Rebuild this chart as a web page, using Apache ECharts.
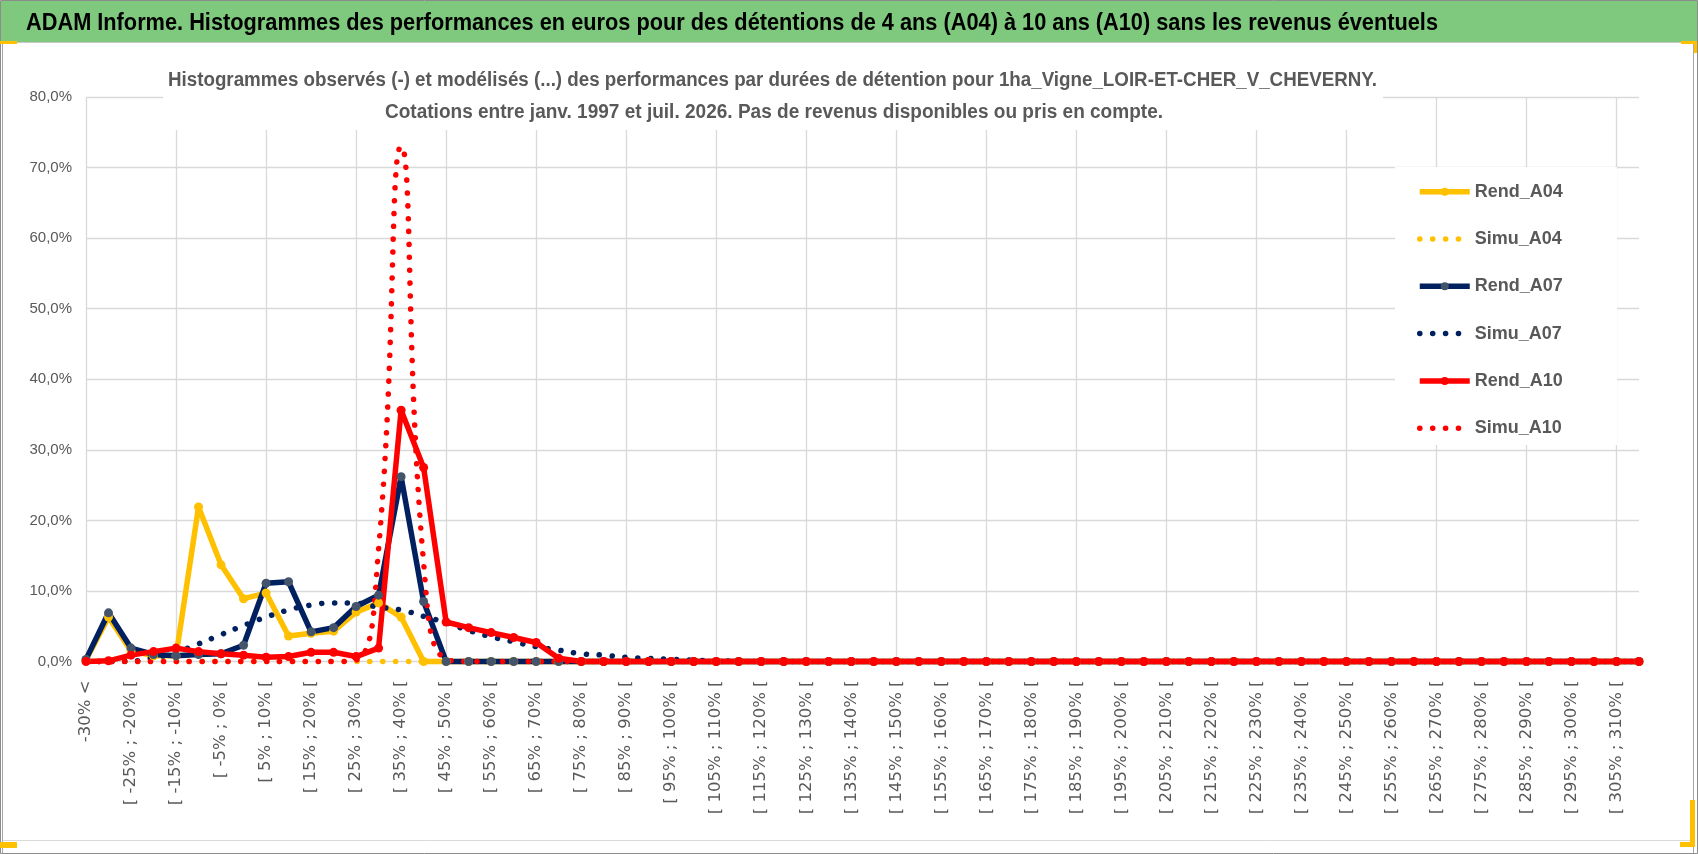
<!DOCTYPE html>
<html><head><meta charset="utf-8">
<script src="https://cdn.jsdelivr.net/npm/echarts@6/dist/echarts.min.js"></script>
<style>html,body{margin:0;padding:0;background:#fff;overflow:hidden}#c{width:1698px;height:854px}</style>
</head><body><div id="c"></div><script>
const categories = [
"-30% <",
"[ -30% ; -25% [","[ -25% ; -20% [","[ -20% ; -15% [","[ -15% ; -10% [","[ -10% ; -5% [","[ -5% ; 0% [",
"[ 0% ; 5% [","[ 5% ; 10% [","[ 10% ; 15% [","[ 15% ; 20% [","[ 20% ; 25% [","[ 25% ; 30% [",
"[ 30% ; 35% [","[ 35% ; 40% [","[ 40% ; 45% [","[ 45% ; 50% [","[ 50% ; 55% [","[ 55% ; 60% [",
"[ 60% ; 65% [","[ 65% ; 70% [","[ 70% ; 75% [","[ 75% ; 80% [","[ 80% ; 85% [","[ 85% ; 90% [",
"[ 90% ; 95% [","[ 95% ; 100% [","[ 100% ; 105% [","[ 105% ; 110% [","[ 110% ; 115% [","[ 115% ; 120% [",
"[ 120% ; 125% [","[ 125% ; 130% [","[ 130% ; 135% [","[ 135% ; 140% [","[ 140% ; 145% [","[ 145% ; 150% [",
"[ 150% ; 155% [","[ 155% ; 160% [","[ 160% ; 165% [","[ 165% ; 170% [","[ 170% ; 175% [","[ 175% ; 180% [",
"[ 180% ; 185% [","[ 185% ; 190% [","[ 190% ; 195% [","[ 195% ; 200% [","[ 200% ; 205% [","[ 205% ; 210% [",
"[ 210% ; 215% [","[ 215% ; 220% [","[ 220% ; 225% [","[ 225% ; 230% [","[ 230% ; 235% [","[ 235% ; 240% [",
"[ 240% ; 245% [","[ 245% ; 250% [","[ 250% ; 255% [","[ 255% ; 260% [","[ 260% ; 265% [","[ 265% ; 270% [",
"[ 270% ; 275% [","[ 275% ; 280% [","[ 280% ; 285% [","[ 285% ; 290% [","[ 290% ; 295% [","[ 295% ; 300% [",
"[ 300% ; 305% [","[ 305% ; 310% [",
"310% >"
];
const seriesNames = ["Rend_A04","Simu_A04","Rend_A07","Simu_A07","Rend_A10","Simu_A10"];
const rendA04 = [
0.2, 6.3, 1.5, 0.8, 0.8, 21.9, 13.7, 8.9, 9.7, 3.6,
4.0, 4.3, 7.0, 8.3, 6.3, 0, 0, 0, 0, 0,
0,0,0,0,0,0,0,0,0,0, 0,0,0,0,0,0,0,0,0,0, 0,0,0,0,0,0,0,0,0,0,
0,0,0,0,0,0,0,0,0,0, 0,0,0,0,0,0,0,0,0,0];
const simuA04 = [
0,0,0,0,0,0,0,0,0,0, 0,0,0,0,0,0,0,0,0,0, 0,0,0,0,0,0,0,0,0,0,
0,0,0,0,0,0,0,0,0,0, 0,0,0,0,0,0,0,0,0,0, 0,0,0,0,0,0,0,0,0,0, 0,0,0,0,0,0,0,0,0,0];
const rendA07 = [
0.3, 6.9, 1.9, 1.0, 0.8, 1.0, 1.1, 2.3, 11.1, 11.3,
4.2, 4.8, 7.8, 9.4, 26.2, 8.5, 0, 0, 0, 0,
0,0,0,0,0,0,0,0,0,0, 0,0,0,0,0,0,0,0,0,0, 0,0,0,0,0,0,0,0,0,0,
0,0,0,0,0,0,0,0,0,0, 0,0,0,0,0,0,0,0,0,0];
const simuA07 = [
0, 0, 0.05, 0.5, 1.3, 2.5, 3.8, 5.1, 6.3, 7.3,
8.0, 8.3, 8.25, 7.7, 7.3, 6.4, 5.5, 4.4, 3.5, 2.8,
2.1, 1.6, 1.1, 0.9, 0.6, 0.45, 0.3, 0.2, 0.1, 0.05,
0,0,0,0,0,0,0,0,0,0, 0,0,0,0,0,0,0,0,0,0, 0,0,0,0,0,0,0,0,0,0, 0,0,0,0,0,0,0,0,0,0];
const rendA10 = [
0, 0.1, 0.9, 1.4, 1.9, 1.4, 1.1, 0.9, 0.6, 0.7,
1.3, 1.3, 0.7, 1.9, 35.6, 27.5, 5.6, 4.8, 4.1, 3.4,
2.7, 0.45, 0, 0, 0, 0, 0, 0, 0, 0,
0,0,0,0,0,0,0,0,0,0, 0,0,0,0,0,0,0,0,0,0, 0,0,0,0,0,0,0,0,0,0, 0,0,0,0,0,0,0,0,0,0];
const simuA10 = [
0,0,0,0,0,0,0,0,0,0,
0, 0, 0.2, 16, 73, 14, 0.3, 0, 0, 0,
0,0,0,0,0,0,0,0,0,0, 0,0,0,0,0,0,0,0,0,0, 0,0,0,0,0,0,0,0,0,0,
0,0,0,0,0,0,0,0,0,0, 0,0,0,0,0,0,0,0,0,0];
const yTicks = {min: 0, max: 80, interval: 10};

const mainTitle = "ADAM Informe. Histogrammes des performances en euros pour des détentions de 4 ans (A04) à 10 ans (A10) sans les revenus éventuels";
const subTitle1 = "Histogrammes observés (-) et modélisés (...) des performances par durées de détention pour 1ha_Vigne_LOIR-ET-CHER_V_CHEVERNY.";
const subTitle2 = "Cotations entre janv. 1997 et juil. 2026. Pas de revenus disponibles ou pris en compte.";

function fitScale(text, size, family, weight, width){
  const ctx = document.createElement('canvas').getContext('2d');
  ctx.font = weight + ' ' + size + 'px ' + family;
  return width / ctx.measureText(text).width;
}
const TF = '"Liberation Sans"';
const sMain = fitScale(mainTitle, 24, TF, 'bold', 1412);
const sSub1 = fitScale(subTitle1, 20, TF, 'bold', 1209);
const sSub2 = fitScale(subTitle2, 20, TF, 'bold', 778);

const GRID = '#D9D9D9', TXT = '#595959', YEL = '#FFC000';

function rend(name, data, lineColor, markColor){
  return {name, type:'line', data, symbol:'circle', symbolSize:9, showAllSymbol:true,
    lineStyle:{color:lineColor, width:5.5, join:'round'}, itemStyle:{color:markColor},
    emphasis:{disabled:true}, animation:false, clip:false};
}
function simu(name, data, color){
  return {name, type:'line', data, smooth:true, symbol:'none',
    lineStyle:{color, width:5.5, type:[0.1, 12.8], cap:'round'}, itemStyle:{color:'rgba(0,0,0,0)'},
    emphasis:{disabled:true}, animation:false, clip:false};
}

const chart = echarts.init(document.getElementById('c'), null, {renderer:'canvas'});
chart.setOption({
  backgroundColor:'#fff',
  animation:false,
  grid:{left:86, right:59, top:97, bottom:192.5, containLabel:false},
  xAxis:{type:'category', data:categories, boundaryGap:false,
    axisLine:{show:false}, axisTick:{show:false},
    axisLabel:{interval:1, rotate:90, margin:19, fontFamily:'DejaVu Sans', fontSize:16.5, color:TXT},
    splitLine:{show:true, interval:3, lineStyle:{color:GRID, width:1.3}}},
  yAxis:{type:'value', min:yTicks.min, max:yTicks.max, interval:yTicks.interval,
    axisLine:{show:false}, axisTick:{show:false},
    axisLabel:{margin:14, fontFamily:'Liberation Sans', fontSize:15, color:TXT,
      formatter:v => v.toFixed(1).replace('.', ',') + '%'},
    splitLine:{lineStyle:{color:GRID, width:1.3}}},
  legend:{orient:'vertical', left:1417, top:181.7, padding:0, itemWidth:50, itemHeight:10, itemGap:27.3,
    data:seriesNames, selectedMode:false,
    lineStyle:{width:'inherit'},
    textStyle:{fontFamily:'Liberation Sans', fontWeight:'bold', fontSize:18, color:TXT, lineHeight:20}},
  series:[
    rend(seriesNames[0], rendA04, YEL, YEL),
    simu(seriesNames[1], simuA04, YEL),
    rend(seriesNames[2], rendA07, '#002060', '#44546A'),
    simu(seriesNames[3], simuA07, '#002060'),
    rend(seriesNames[4], rendA10, '#FF0000', '#FF0000'),
    simu(seriesNames[5], simuA10, '#FF0000')
  ],
  graphic:{elements:[
    {type:'rect', z:100, shape:{x:0.5, y:0.5, width:1697, height:853}, style:{fill:'none', stroke:'#8C8C8C', lineWidth:1}},
    {type:'rect', z:100, shape:{x:1, y:1, width:1696, height:41}, style:{fill:'#7EC97D'}},
    {type:'line', z:100, shape:{x1:1, y1:42.5, x2:1697, y2:42.5}, style:{stroke:'#C8C8C8', lineWidth:1}},
    {type:'line', z:100, shape:{x1:2.5, y1:43, x2:2.5, y2:853}, style:{stroke:'#A6A6A6', lineWidth:1}},
    {type:'line', z:100, shape:{x1:1693.5, y1:43, x2:1693.5, y2:853}, style:{stroke:'#A6A6A6', lineWidth:1}},
    {type:'line', z:100, shape:{x1:3, y1:840.5, x2:1693, y2:840.5}, style:{stroke:'#D9D9D9', lineWidth:1}},
    {type:'rect', z:101, shape:{x:0, y:41, width:17, height:3}, style:{fill:YEL}},
    {type:'rect', z:101, shape:{x:1681, y:41, width:16, height:3}, style:{fill:YEL}},
    {type:'rect', z:101, shape:{x:1694, y:41, width:3, height:12}, style:{fill:YEL}},
    {type:'rect', z:101, shape:{x:0, y:842, width:17, height:6}, style:{fill:YEL}},
    {type:'rect', z:101, shape:{x:1690, y:800, width:5, height:47}, style:{fill:YEL}},
    {type:'rect', z:101, shape:{x:1680, y:842, width:15, height:5}, style:{fill:YEL}},
    {type:'rect', z:1, shape:{x:163, y:58, width:1220, height:72}, style:{fill:'#fff'}},
    {type:'rect', z:1, shape:{x:1395, y:167, width:222, height:278}, style:{fill:'#fff'}},
    {type:'text', z:102, x:26, y:23.5, scaleX:sMain,
      style:{text:mainTitle, fontFamily:'Liberation Sans', fontWeight:'bold', fontSize:24, fill:'#000', align:'left', verticalAlign:'middle'}},
    {type:'text', z:102, x:772.5, y:80.5, scaleX:sSub1,
      style:{text:subTitle1, fontFamily:'Liberation Sans', fontWeight:'bold', fontSize:20, fill:TXT, align:'center', verticalAlign:'middle'}},
    {type:'text', z:102, x:774, y:112.5, scaleX:sSub2,
      style:{text:subTitle2, fontFamily:'Liberation Sans', fontWeight:'bold', fontSize:20, fill:TXT, align:'center', verticalAlign:'middle'}}
  ]}
});
</script></body></html>
